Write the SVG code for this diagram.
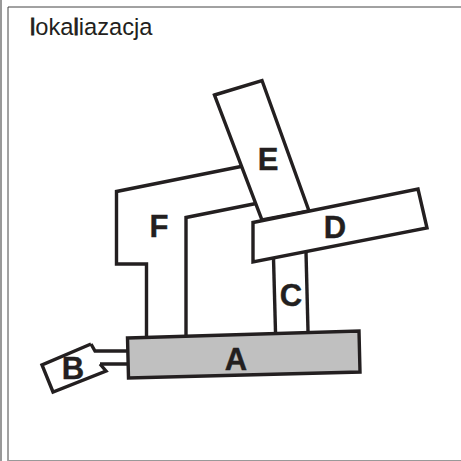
<svg xmlns="http://www.w3.org/2000/svg" width="461" height="461" viewBox="0 0 461 461">
<style>
.s{fill:none;stroke:#231f20;stroke-width:3.4;stroke-linejoin:miter}
.w{fill:#fff;stroke:#231f20;stroke-width:3.4}
.l{font-family:"Liberation Sans",Arial,sans-serif;font-weight:700;font-size:31px;fill:#231f20;text-anchor:middle;stroke:#231f20;stroke-width:.4}
.t{font-family:"Liberation Sans",Arial,sans-serif;font-size:23.7px;fill:#231f20}
.h{stroke:#231f20;stroke-width:.9}
.f{fill:none;stroke:#444;stroke-width:1}
</style>
<rect width="461" height="461" fill="#fff"/>
<g id="frame">
<path d="M1 0V461" fill="none" stroke="#999" stroke-width="2"/>
<path d="M8 461V7H461" class="f"/>
<path d="M8 460.500H461" fill="none" stroke="#999" stroke-width="1"/>
</g>
<text id="title" class="t" x="30" y="34.500"><tspan class="h">l</tspan>oka<tspan class="h">l</tspan>iazacja</text>
<g id="connectors">
<path class="s" d="M127 351H95L91 344M127 364H100"/>
</g>
<g id="node-F"><path class="s" d="M241 166.500L116.500 191.500V264H146.500V336"/><path class="s" d="M256 203.500L186 217.500V335"/><text class="l" x="159" y="237">F</text></g>
<g id="node-C"><path class="s" d="M273.500 258L275.500 332"/><path class="s" d="M306 252L308 331"/><text class="l" x="291" y="306">C</text></g>
<g id="node-E"><path class="w" d="M214.500 95L262 80.500L309 211L262 220Z"/><text class="l" x="268" y="170">E</text></g>
<g id="node-D"><path class="w" d="M253 222.500L418 189L427 228L253 262Z"/><text class="l" x="335" y="238">D</text></g>
<g id="node-A"><path d="M127.500 338L359 331L360 372L128.500 378Z" fill="#c0c0c0" stroke="#231f20" stroke-width="3.400"/><text class="l" x="236" y="370">A</text></g>
<g id="node-B"><path class="s" d="M91 344L42 365L53 392L106 371L100 364"/><text class="l" x="73" y="379">B</text></g>
</svg>
